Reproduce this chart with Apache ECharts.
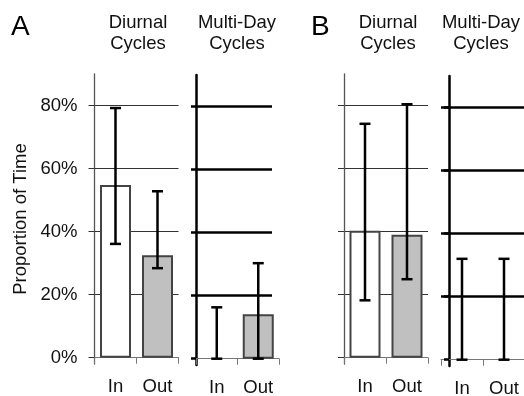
<!DOCTYPE html>
<html>
<head>
<meta charset="utf-8">
<script src="https://cdn.jsdelivr.net/npm/echarts@6/dist/echarts.min.js"></script>
<style>html,body{margin:0;padding:0;background:#fff}#c{width:524px;height:396px}</style>
</head>
<body>
<div id="c"></div>
<script>
// ---- data (percent) ----
const categories = ['In', 'Out'];
const yTicks = [0, 20, 40, 60, 80];
const yMin = -2, yMax = 90;

const aDiurnalMean = [54.8, 32.5];
const aDiurnalLow  = [36.1, 28.4];
const aDiurnalHigh = [79.2, 52.8];

const aMultiMean = [0, 14.1];
const aMultiLow  = [0, 0];
const aMultiHigh = [16.3, 30.3];

const bDiurnalMean = [40.3, 39.0];
const bDiurnalLow  = [18.2, 24.9];
const bDiurnalHigh = [74.2, 80.4];

const bMultiMean = [0, 0];
const bMultiLow  = [0, 0];
const bMultiHigh = [32, 32];

const panelTitles = ['Diurnal\nCycles', 'Multi-Day\nCycles', 'Diurnal\nCycles', 'Multi-Day\nCycles'];
const letters = ['A', 'B'];
const yName = 'Proportion of Time';

const FONT = "'Liberation Sans', Arial, Helvetica, sans-serif";
const FS = 18.5;

const grids = [
  {left: 94.5, width: 84, top: 74, height: 290},
  {left: 196, width: 83, top: 75, height: 290},
  {left: 344, width: 84, top: 74, height: 290},
  {left: 441, width: 84, top: 76, height: 290},
  {left: 196, width: 76, top: 75, height: 290} // gridline-only grid for A multi-day
].map(g => Object.assign({outerBoundsMode: 'none', containLabel: false}, g));

function xAxisFor(i) {
  return {
    type: 'category', gridIndex: i, data: categories,
    axisLine: {show: true, lineStyle: {color: '#777', width: 1}},
    axisTick: {show: true, length: 6, lineStyle: {color: '#777', width: 1}},
    axisLabel: {margin: 13, fontSize: FS, fontFamily: FONT, color: '#111'},
    splitLine: {show: false}
  };
}
function yAxisFor(i, thick, opts) {
  const col = thick ? '#000' : '#333';
  const w = thick ? 2.5 : 1;
  return Object.assign({
    type: 'value', gridIndex: i, min: yMin, max: yMax,
    axisLine: {show: true, lineStyle: {color: thick ? '#000' : '#555', width: thick ? 2.5 : 1.3}},
    axisTick: {show: true, length: thick ? 5 : 6, customValues: yTicks, lineStyle: {color: col, width: w}},
    axisLabel: {show: false, customValues: yTicks},
    splitLine: {show: true, showMinLine: !thick, lineStyle: {color: col, width: w}}
  }, opts || {});
}

const yAxes = [
  yAxisFor(0, false, {
    axisLabel: {show: true, customValues: yTicks, formatter: v => v + '%', margin: 17, fontSize: FS, fontFamily: FONT, color: '#111'},
    name: yName, nameLocation: 'middle', nameGap: 64, nameRotate: 90,
    nameTextStyle: {fontSize: FS, fontFamily: FONT, color: '#111'}
  }),
  yAxisFor(1, true, {splitLine: {show: false}}),
  yAxisFor(2, false),
  yAxisFor(3, true, {offset: -8}),
  {
    type: 'value', gridIndex: 4, min: yMin, max: yMax,
    axisLine: {show: false}, axisTick: {show: false, customValues: yTicks},
    axisLabel: {show: false, customValues: yTicks},
    splitLine: {show: true, showMinLine: false, lineStyle: {color: '#000', width: 2.5}}
  }
];
const xAxes = [xAxisFor(0), xAxisFor(1), xAxisFor(2), xAxisFor(3),
  {type: 'category', gridIndex: 4, data: categories, show: false}];

const fills = ['#ffffff', '#c0c0c0'];
function barSeries(idx, means) {
  return {
    type: 'bar', xAxisIndex: idx, yAxisIndex: idx, barWidth: 31, z: 3,
    data: means.map((v, k) => ({
      value: v,
      itemStyle: {color: fills[k], borderColor: '#444', borderWidth: v === 0 ? 0 : 2}
    }))
  };
}
function errRender(params, api) {
  const x = api.value(0);
  const pLo = api.coord([x, api.value(1)]);
  const pHi = api.coord([x, api.value(2)]);
  const cap = 5.5;
  const st = {stroke: '#000', lineWidth: 2.5};
  return {type: 'group', children: [
    {type: 'line', shape: {x1: pLo[0], y1: pLo[1], x2: pHi[0], y2: pHi[1]}, style: st},
    {type: 'line', shape: {x1: pHi[0] - cap, y1: pHi[1], x2: pHi[0] + cap, y2: pHi[1]}, style: st},
    {type: 'line', shape: {x1: pLo[0] - cap, y1: pLo[1], x2: pLo[0] + cap, y2: pLo[1]}, style: st}
  ]};
}
function errSeries(idx, lows, highs) {
  return {
    type: 'custom', xAxisIndex: idx, yAxisIndex: idx, z: 5, clip: false,
    renderItem: errRender, encode: {x: 0, y: [1, 2]},
    data: lows.map((lo, k) => [k, lo, highs[k]])
  };
}

const titleCenters = [138, 237, 388, 481];
const graphics = [
  {type: 'text', x: 11, y: 27, style: {text: letters[0], font: '28px ' + FONT, fill: '#000', verticalAlign: 'middle'}},
  {type: 'text', x: 311, y: 27.5, style: {text: letters[1], font: '28px ' + FONT, fill: '#000', verticalAlign: 'middle'}}
].concat(panelTitles.map((t, i) => ({
  type: 'text', x: titleCenters[i], y: 33.5,
  style: {text: t, font: FS + 'px ' + FONT, fill: '#111', align: 'center', verticalAlign: 'middle', lineHeight: 20.5}
})));

const chart = echarts.init(document.getElementById('c'), null, {renderer: 'canvas'});
chart.setOption({
  animation: false,
  backgroundColor: '#fff',
  grid: grids,
  xAxis: xAxes,
  yAxis: yAxes,
  graphic: graphics,
  series: [
    barSeries(0, aDiurnalMean), errSeries(0, aDiurnalLow, aDiurnalHigh),
    barSeries(1, aMultiMean), errSeries(1, aMultiLow, aMultiHigh),
    barSeries(2, bDiurnalMean), errSeries(2, bDiurnalLow, bDiurnalHigh),
    barSeries(3, bMultiMean), errSeries(3, bMultiLow, bMultiHigh)
  ]
});
</script>
</body>
</html>
